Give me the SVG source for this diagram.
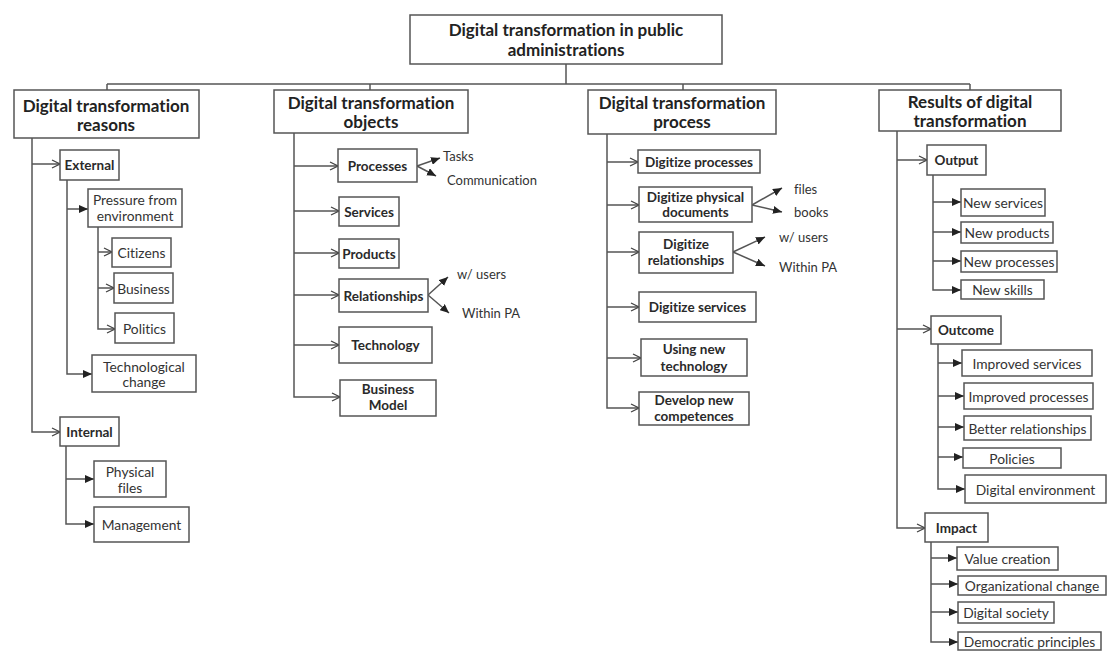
<svg xmlns="http://www.w3.org/2000/svg" width="1108" height="651" viewBox="0 0 1108 651">
<style>
rect{fill:#fff;stroke:#555;stroke-width:1.5}
text{font-family:Lato,"Liberation Sans",sans-serif;fill:#333;text-anchor:middle;dominant-baseline:central;font-variant-ligatures:none;font-feature-settings:"liga" 0}
.h{font-size:17px;font-weight:bold;fill:#222}
.b{font-size:13.5px;font-weight:bold;fill:#2a2a2a}
.r{font-size:13.8px}
.l{font-size:13px;text-anchor:start}
#connectors path{fill:none;stroke:#555;stroke-width:1.5}
.o{marker-end:url(#open)}
.f{marker-end:url(#fill)}
</style>
<defs>
<marker id="open" markerWidth="10" markerHeight="10" refX="9" refY="5" orient="auto" markerUnits="userSpaceOnUse"><path d="M1,1 L9,5 L1,9" fill="none" stroke="#444" stroke-width="1.3"/></marker>
<marker id="fill" markerWidth="10" markerHeight="8" refX="9" refY="4" orient="auto" markerUnits="userSpaceOnUse"><path d="M0,0 L9,4 L0,8 z" fill="#222"/></marker>
</defs>
<rect x="0" y="0" width="1108" height="651" style="fill:#fff;stroke:none"/>
<g id="connectors">
<path d="M566,64 V84 M107,84 H970 M107,84 V90 M370,84 V90 M683,84 V90 M970,84 V90"/>
<path class="o" d="M32,138 V432 H60"/>
<path class="o" d="M32,164 H60"/>
<path class="f" d="M67,180 V374 H92"/>
<path class="f" d="M67,209 H88"/>
<path class="o" d="M98,227 V329 H115"/>
<path class="o" d="M98,252 H112"/>
<path class="o" d="M98,288 H114"/>
<path class="f" d="M66,446 V524 H94"/>
<path class="f" d="M66,479 H94"/>
<path class="o" d="M294,133 V397 H340"/>
<path class="o" d="M294,166 H338"/>
<path class="o" d="M294,211 H339"/>
<path class="o" d="M294,253 H339"/>
<path class="o" d="M294,295 H339"/>
<path class="o" d="M294,345 H339"/>
<path class="f" d="M417,166 L440,158"/>
<path class="f" d="M417,166 L436,176"/>
<path class="f" d="M428,295 L448,277"/>
<path class="f" d="M428,295 L449,313"/>
<path class="o" d="M607,134 V408 H639"/>
<path class="o" d="M607,162 H638"/>
<path class="o" d="M607,205 H639"/>
<path class="o" d="M607,252 H639"/>
<path class="o" d="M607,307 H639"/>
<path class="o" d="M607,358 H641"/>
<path class="f" d="M752,205 L782,188"/>
<path class="f" d="M752,205 L782,212"/>
<path class="f" d="M733,252 L765,237"/>
<path class="f" d="M733,252 L765,266"/>
<path class="o" d="M897,131 V528 H925"/>
<path class="o" d="M897,160 H927"/>
<path class="o" d="M897,329 H931"/>
<path class="f" d="M933,175 V290 H961"/>
<path class="f" d="M933,202 H961"/>
<path class="f" d="M933,232 H961"/>
<path class="f" d="M933,261 H961"/>
<path class="f" d="M938,344 V489 H965"/>
<path class="f" d="M938,363 H962"/>
<path class="f" d="M938,396 H964"/>
<path class="f" d="M938,427 H964"/>
<path class="f" d="M938,457 H963"/>
<path class="f" d="M931,542 V642 H958"/>
<path class="f" d="M931,558 H957"/>
<path class="f" d="M931,584 H958"/>
<path class="f" d="M931,612 H958"/>
</g>
<g id="root"><rect x="410" y="15" width="312" height="49"/><text class="h" x="566" y="29">Digital transformation in public</text><text class="h" x="566" y="49">administrations</text></g>
<g id="reasons"><rect x="14" y="90" width="185" height="48"/><text class="h" x="106" y="105">Digital transformation</text><text class="h" x="106" y="124">reasons</text></g>
<g id="objects"><rect x="274" y="90" width="194" height="43"/><text class="h" x="371" y="102">Digital transformation</text><text class="h" x="371" y="121">objects</text></g>
<g id="process"><rect x="588" y="90" width="188" height="44"/><text class="h" x="682" y="102">Digital transformation</text><text class="h" x="682" y="121">process</text></g>
<g id="results"><rect x="879" y="90" width="182" height="41"/><text class="h" x="970" y="101">Results of digital</text><text class="h" x="970" y="120">transformation</text></g>
<g id="external"><rect x="60" y="150" width="59" height="30"/><text class="b" x="89.5" y="165">External</text></g>
<g id="pressure"><rect x="88" y="189" width="94" height="38"/><text class="r" x="135" y="199">Pressure from</text><text class="r" x="135" y="215">environment</text></g>
<g id="citizens"><rect x="112" y="238" width="59" height="29"/><text class="r" x="141.5" y="252.5">Citizens</text></g>
<g id="business"><rect x="114" y="273" width="59" height="30"/><text class="r" x="143.5" y="288">Business</text></g>
<g id="politics"><rect x="115" y="313" width="59" height="30"/><text class="r" x="144.5" y="328">Politics</text></g>
<g id="techchange"><rect x="92" y="355" width="104" height="37"/><text class="r" x="144" y="366">Technological</text><text class="r" x="144" y="381">change</text></g>
<g id="internal"><rect x="60" y="417" width="59" height="29"/><text class="b" x="89.5" y="431.5">Internal</text></g>
<g id="physfiles"><rect x="94" y="461" width="72" height="36"/><text class="r" x="130" y="471">Physical</text><text class="r" x="130" y="487">files</text></g>
<g id="management"><rect x="94" y="507" width="95" height="35"/><text class="r" x="141.5" y="524.5">Management</text></g>
<g id="processes"><rect x="338" y="149" width="79" height="33"/><text class="b" x="377.5" y="165.5">Processes</text></g>
<g id="tasks"><text class="l" x="443" y="156">Tasks</text></g>
<g id="communication"><text class="l" x="447" y="180">Communication</text></g>
<g id="services"><rect x="339" y="197" width="60" height="29"/><text class="b" x="369" y="211.5">Services</text></g>
<g id="products"><rect x="339" y="239" width="60" height="29"/><text class="b" x="369" y="253.5">Products</text></g>
<g id="relationships"><rect x="339" y="279" width="89" height="33"/><text class="b" x="383.5" y="295.5">Relationships</text></g>
<g id="wusers1"><text class="l" x="457" y="274">w/ users</text></g>
<g id="withinpa1"><text class="l" x="462" y="313">Within PA</text></g>
<g id="technology"><rect x="339" y="327" width="93" height="36"/><text class="b" x="385.5" y="345">Technology</text></g>
<g id="bizmodel"><rect x="340" y="380" width="96" height="36"/><text class="b" x="388" y="389">Business</text><text class="b" x="388" y="405">Model</text></g>
<g id="digproc"><rect x="638" y="150" width="122" height="23"/><text class="b" x="699" y="161.5">Digitize processes</text></g>
<g id="digdocs"><rect x="639" y="187" width="113" height="35"/><text class="b" x="695.5" y="197">Digitize physical</text><text class="b" x="695.5" y="212">documents</text></g>
<g id="files"><text class="l" x="794" y="189">files</text></g>
<g id="books"><text class="l" x="794" y="212">books</text></g>
<g id="digrel"><rect x="639" y="232" width="94" height="41"/><text class="b" x="686" y="244">Digitize</text><text class="b" x="686" y="260">relationships</text></g>
<g id="wusers2"><text class="l" x="779" y="237">w/ users</text></g>
<g id="withinpa2"><text class="l" x="779" y="267">Within PA</text></g>
<g id="digserv"><rect x="639" y="292" width="117" height="30"/><text class="b" x="697.5" y="307">Digitize services</text></g>
<g id="newtech"><rect x="641" y="339" width="106" height="37"/><text class="b" x="694" y="349">Using new</text><text class="b" x="694" y="366">technology</text></g>
<g id="competences"><rect x="639" y="392" width="110" height="33"/><text class="b" x="694" y="400">Develop new</text><text class="b" x="694" y="416">competences</text></g>
<g id="output"><rect x="927" y="145" width="59" height="30"/><text class="b" x="956.5" y="160">Output</text></g>
<g id="newservices"><rect x="961" y="189" width="84" height="27"/><text class="r" x="1003" y="202.5">New services</text></g>
<g id="newproducts"><rect x="961" y="222" width="92" height="21"/><text class="r" x="1007" y="232.5">New products</text></g>
<g id="newprocesses"><rect x="961" y="251" width="96" height="21"/><text class="r" x="1009" y="261.5">New processes</text></g>
<g id="newskills"><rect x="961" y="280" width="83" height="19"/><text class="r" x="1002.5" y="289.5">New skills</text></g>
<g id="outcome"><rect x="931" y="316" width="70" height="28"/><text class="b" x="966" y="330">Outcome</text></g>
<g id="impservices"><rect x="962" y="350" width="130" height="26"/><text class="r" x="1027" y="363">Improved services</text></g>
<g id="impprocesses"><rect x="964" y="383" width="129" height="26"/><text class="r" x="1028.5" y="396">Improved processes</text></g>
<g id="betterrel"><rect x="964" y="416" width="127" height="24"/><text class="r" x="1027.5" y="428">Better relationships</text></g>
<g id="policies"><rect x="963" y="448" width="98" height="20"/><text class="r" x="1012" y="458">Policies</text></g>
<g id="digenv"><rect x="965" y="475" width="141" height="28"/><text class="r" x="1035.5" y="489">Digital environment</text></g>
<g id="impact"><rect x="925" y="513" width="63" height="29"/><text class="b" x="956.5" y="527.5">Impact</text></g>
<g id="valuecreation"><rect x="957" y="547" width="101" height="23"/><text class="r" x="1007.5" y="558.5">Value creation</text></g>
<g id="orgchange"><rect x="958" y="576" width="148" height="19"/><text class="r" x="1032" y="585.5">Organizational change</text></g>
<g id="digsociety"><rect x="958" y="602" width="96" height="21"/><text class="r" x="1006" y="612.5">Digital society</text></g>
<g id="democratic"><rect x="958" y="632" width="143" height="18"/><text class="r" x="1029.5" y="641.5">Democratic principles</text></g>
</svg>
